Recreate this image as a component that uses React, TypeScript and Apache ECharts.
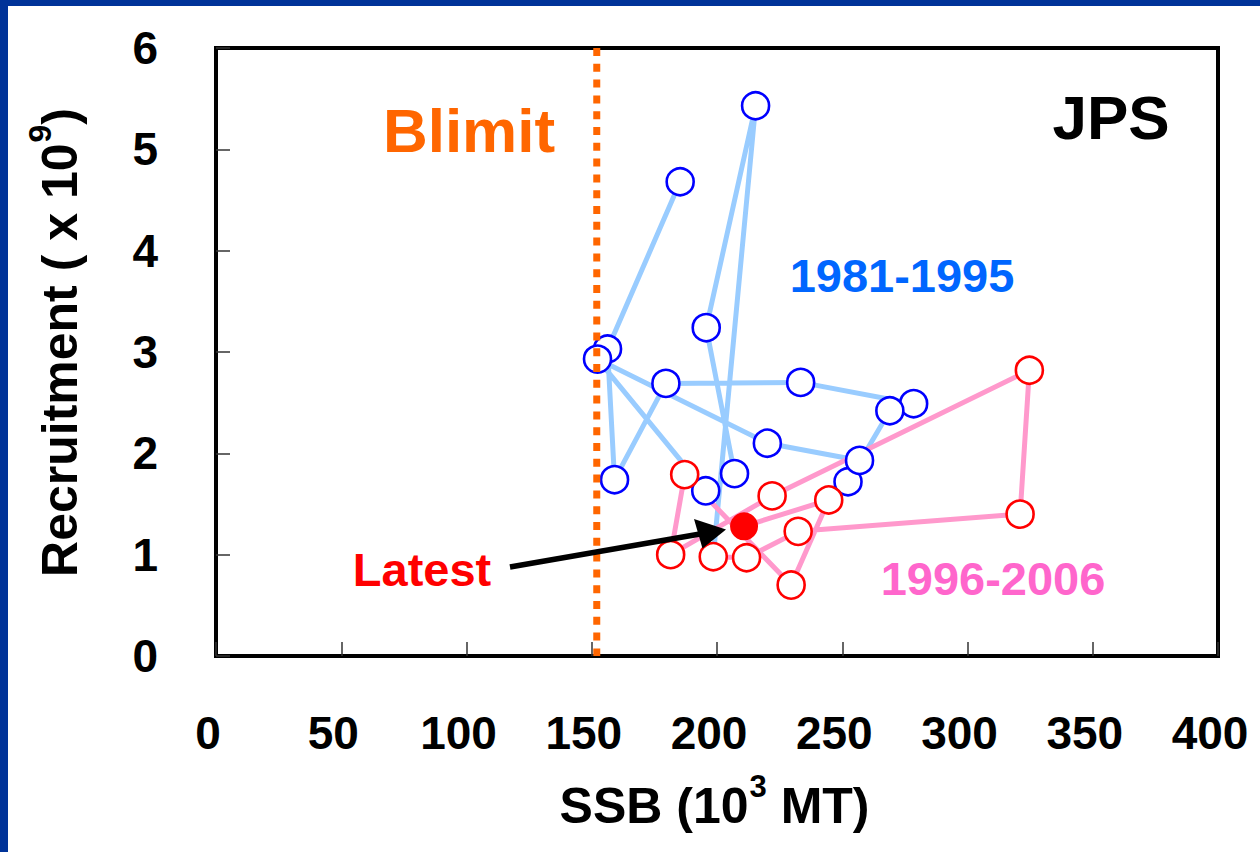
import React, { useEffect, useRef } from "react";
import * as echarts from "echarts";

// ---- Data ----
// 1981-1995 stock-recruitment pairs (SSB in 10^3 MT, recruitment in 10^9)
const blueYears = [1981, 1982, 1983, 1984, 1985, 1986, 1987, 1988, 1989, 1990, 1991, 1992, 1993, 1994, 1995];
const blueSSB = [185.3, 156.3, 159.1, 179.6, 233.4, 278.5, 269.0, 252.3, 256.9, 220.1, 152.3, 195.5, 207.0, 195.7, 215.4];
const blueRec = [4.68, 3.03, 1.74, 2.69, 2.70, 2.49, 2.42, 1.72, 1.93, 2.10, 2.93, 1.63, 1.80, 3.24, 5.43];

// 1996-2006
const redYears = [1996, 1997, 1998, 1999, 2000, 2001, 2002, 2003, 2004, 2005, 2006];
const redSSB = [198.5, 211.8, 232.4, 321.0, 324.7, 222.0, 181.5, 187.1, 229.6, 244.6, 210.8];
const redRec = [0.98, 0.97, 1.23, 1.40, 2.82, 1.58, 1.00, 1.79, 0.70, 1.54, 1.28];

const blimitSSB = 152;
const recRange = [6, 0];

const yTitleParts = ["Recruitment ( x 10", "9", ")"];
const xTitleParts = ["SSB (10", "3", " MT)"];

const FONT = "'Liberation Sans', Arial, Helvetica, sans-serif";

function measure(text: string, size: number): number {
  const c = document.createElement("canvas").getContext("2d");
  if (!c) return text.length * size * 0.6;
  c.font = `bold ${size}px ${FONT}`;
  return c.measureText(text).width;
}

// Builds title texts (main + superscript + main) laid out along local x, centred on 0.
function titleTexts(parts: string[], mainSize: number, supSize: number, supDy: number) {
  const w0 = measure(parts[0], mainSize);
  const w1 = measure(parts[1], supSize);
  const w2 = measure(parts[2], mainSize);
  const left = -(w0 + w1 + w2) / 2;
  const base = { fill: "#000", fontWeight: "bold", fontFamily: FONT, align: "left", verticalAlign: "middle" };
  return [
    { type: "text", x: left, y: 0, style: { ...base, text: parts[0], fontSize: mainSize } },
    { type: "text", x: left + w0 + 1, y: supDy, style: { ...base, text: parts[1], fontSize: supSize } },
    { type: "text", x: left + w0 + w1 + 1, y: 0, style: { ...base, text: parts[2], fontSize: mainSize } },
  ];
}

export default function App() {
  const ref = useRef<HTMLDivElement>(null);

  useEffect(() => {
    if (!ref.current) return;
    const chart = echarts.init(ref.current, undefined, { renderer: "svg" });

    const bluePts = blueYears.map((_, i) => [blueSSB[i], blueRec[i]]);
    const redPts = redYears.map((_, i) => [redSSB[i], redRec[i]]);
    const blueLine = [...bluePts, redPts[0]];
    const redOpen = redPts.slice(0, -1);
    const latest = [redPts[redPts.length - 1]];
    const blimitLine = recRange.map((r) => [blimitSSB, r]);

    const axisLabelBase = {
      fontSize: 46,
      fontWeight: "bold" as const,
      fontFamily: FONT,
      color: "#000",
    };

    const option: any = {
      animation: false,
      backgroundColor: "#fff",
      grid: {
        left: 216,
        right: 42,
        top: 48,
        bottom: 196,
        show: true,
        borderColor: "#000",
        borderWidth: 4,
        backgroundColor: "transparent",
      },
      xAxis: {
        type: "value",
        min: 0,
        max: 400,
        interval: 50,
        axisLine: { show: true, onZero: false, lineStyle: { color: "#000", width: 4 } },
        axisTick: { show: true, inside: true, length: 14, lineStyle: { color: "#333", width: 1.5 } },
        axisLabel: { ...axisLabelBase, margin: 54, padding: [0, 16, 0, 0] },
        splitLine: { show: false },
      },
      yAxis: {
        type: "value",
        min: 0,
        max: 6,
        interval: 1,
        axisLine: { show: true, onZero: false, lineStyle: { color: "#000", width: 4 } },
        axisTick: { show: true, inside: true, length: 14, lineStyle: { color: "#333", width: 1.5 } },
        axisLabel: { ...axisLabelBase, margin: 58 },
        splitLine: { show: false },
      },
      series: [
        {
          type: "line",
          data: blueLine,
          symbol: "none",
          lineStyle: { color: "#99CCFF", width: 5 },
          z: 2,
          silent: true,
        },
        {
          type: "line",
          data: redPts,
          symbol: "none",
          lineStyle: { color: "#FF99CC", width: 5 },
          z: 3,
          silent: true,
        },
        {
          type: "scatter",
          data: bluePts,
          symbol: "circle",
          symbolSize: 27,
          itemStyle: { color: "#fff", borderColor: "#0000FF", borderWidth: 2.6, opacity: 1 },
          z: 4,
        },
        {
          type: "scatter",
          data: redOpen,
          symbol: "circle",
          symbolSize: 27,
          itemStyle: { color: "#fff", borderColor: "#FF0000", borderWidth: 2.6, opacity: 1 },
          z: 5,
        },
        {
          type: "scatter",
          data: latest,
          symbol: "circle",
          symbolSize: 28,
          itemStyle: { color: "#FF0000", opacity: 1 },
          z: 6,
        },
        {
          type: "line",
          data: blimitLine,
          symbol: "none",
          lineStyle: { color: "#FF6600", width: 7, type: [8, 7.8], cap: "butt" },
          z: 7,
          silent: true,
        },
      ],
      graphic: [
        { type: "rect", shape: { x: 0, y: 0, width: 1260, height: 6 }, style: { fill: "#003399" }, z: 100 },
        { type: "rect", shape: { x: 0, y: 0, width: 8, height: 852 }, style: { fill: "#003399" }, z: 100 },
        {
          type: "text",
          x: 469,
          y: 130,
          z: 100,
          style: { text: "Blimit", fill: "#FF6600", fontSize: 62, fontWeight: "bold", fontFamily: FONT, align: "center", verticalAlign: "middle" },
        },
        {
          type: "text",
          x: 1111,
          y: 117,
          z: 100,
          style: { text: "JPS", fill: "#000", fontSize: 62, fontWeight: "bold", fontFamily: FONT, align: "center", verticalAlign: "middle" },
        },
        {
          type: "text",
          x: 902,
          y: 275,
          z: 100,
          style: { text: "1981-1995", fill: "#0066FF", fontSize: 47, fontWeight: "bold", fontFamily: FONT, align: "center", verticalAlign: "middle" },
        },
        {
          type: "text",
          x: 993,
          y: 578,
          z: 100,
          style: { text: "1996-2006", fill: "#FF66CC", fontSize: 47, fontWeight: "bold", fontFamily: FONT, align: "center", verticalAlign: "middle" },
        },
        {
          type: "text",
          x: 422,
          y: 569,
          z: 100,
          style: { text: "Latest", fill: "#FF0000", fontSize: 47, fontWeight: "bold", fontFamily: FONT, align: "center", verticalAlign: "middle" },
        },
        {
          type: "line",
          z: 100,
          shape: { x1: 510, y1: 567, x2: 700, y2: 534 },
          style: { stroke: "#000", lineWidth: 5.5 },
        },
        {
          type: "polygon",
          z: 100,
          shape: { points: [[726, 529.5], [694, 519], [702.5, 548.5]] },
          style: { fill: "#000" },
        },
        {
          type: "group",
          x: 59.5,
          y: 343,
          rotation: Math.PI / 2,
          z: 100,
          children: titleTexts(yTitleParts, 50, 32, -20),
        },
        {
          type: "group",
          x: 714,
          y: 806,
          z: 100,
          children: titleTexts(xTitleParts, 50, 31, -20),
        },
      ],
    };

    chart.setOption(option);
    return () => chart.dispose();
  }, []);

  return (
    <div
      ref={ref}
      style={{ position: "fixed", left: 0, top: 0, width: 1260, height: 852, background: "#fff" }}
    />
  );
}
